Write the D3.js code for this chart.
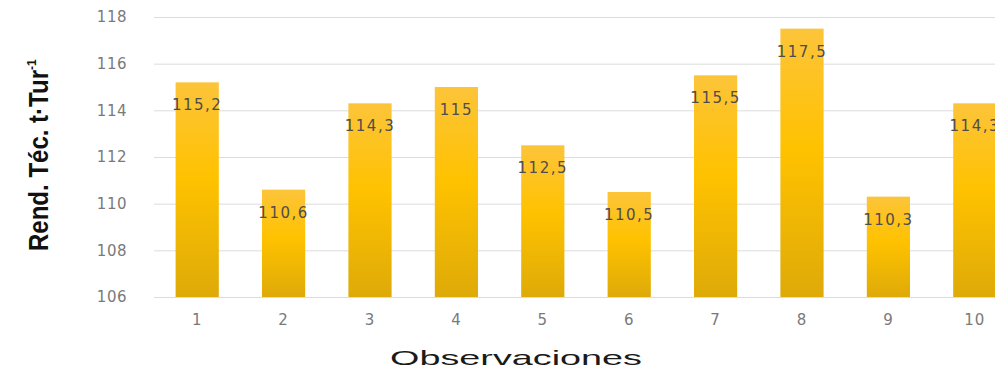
<!DOCTYPE html>
<html>
<head>
<meta charset="utf-8">
<script src="https://cdn.jsdelivr.net/npm/d3@7"></script>
<style>
  html, body { margin: 0; padding: 0; background: #fff; overflow: hidden; }
  svg { display: block; }
</style>
</head>
<body>
<svg id="chart" width="995" height="380"></svg>
<script>
// Rendimiento técnico por observación
const observaciones = ["1", "2", "3", "4", "5", "6", "7", "8", "9", "10"];
const rendimiento = [115.2, 110.6, 114.3, 115, 112.5, 110.5, 115.5, 117.5, 110.3, 114.3];
const yTicks = [106, 108, 110, 112, 114, 116, 118];

const svg = d3.select("#chart");
const plotLeft = 154, plotRight = 1018, plotTop = 17, plotBottom = 297;
const numFont = "'DejaVu Sans', 'Open Sans', sans-serif";

const x = d3.scaleBand().domain(observaciones).range([plotLeft, plotRight]).paddingInner(0.5).paddingOuter(0.25);
const y = d3.scaleLinear().domain([106, 118]).range([plotBottom, plotTop]);

// vertical gradient for the bars
const defs = svg.append("defs");
const grad = defs.append("linearGradient").attr("id", "barGrad").attr("x1", 0).attr("y1", 0).attr("x2", 0).attr("y2", 1);
grad.append("stop").attr("offset", "0%").attr("stop-color", "#fcc43a");
grad.append("stop").attr("offset", "45%").attr("stop-color", "#ffc200");
grad.append("stop").attr("offset", "100%").attr("stop-color", "#deaa08");

// gridlines and y tick labels
const yAxis = d3.axisLeft(y).tickValues(yTicks).tickSize(-(plotRight - plotLeft)).tickPadding(27).tickFormat(d3.format("d"));
const gy = svg.append("g").attr("transform", `translate(${plotLeft},0)`).call(yAxis);
gy.select(".domain").remove();
gy.selectAll(".tick line").attr("stroke", "#dcdcdc").attr("stroke-width", 1);
gy.selectAll(".tick text").attr("fill", "#7a7a7a")
  .style("font-family", numFont).style("font-size", "15px").style("letter-spacing", "0.5px");

// bars
svg.append("g").selectAll("rect").data(rendimiento).join("rect")
  .attr("x", (d, i) => x(observaciones[i]))
  .attr("y", d => y(d))
  .attr("width", x.bandwidth())
  .attr("height", d => y(106) - y(d))
  .attr("fill", "url(#barGrad)");

// value labels inside the top of each bar
svg.append("g").selectAll("text").data(rendimiento).join("text")
  .attr("x", (d, i) => x(observaciones[i]) + x.bandwidth() / 2)
  .attr("y", d => y(d) + 28)
  .attr("text-anchor", "middle")
  .attr("fill", "#4d4d4d")
  .style("font-family", numFont)
  .style("font-size", "15px")
  .style("letter-spacing", "1.5px")
  .text(d => String(d).replace(".", ","));

// x tick labels
const xAxis = d3.axisBottom(x).tickSize(0).tickPadding(17);
const gx = svg.append("g").attr("transform", `translate(0,${plotBottom})`).call(xAxis);
gx.select(".domain").remove();
gx.selectAll(".tick text").attr("fill", "#7a7a7a")
  .style("font-family", numFont).style("font-size", "15px").style("letter-spacing", "1px");

// axis titles
svg.append("text")
  .attr("x", 516).attr("y", 365)
  .attr("text-anchor", "middle")
  .attr("fill", "#1a1a1a")
  .attr("textLength", 252)
  .attr("lengthAdjust", "spacingAndGlyphs")
  .style("font-family", "'Liberation Sans', Arial, sans-serif")
  .style("font-size", "21px")
  .text("Observaciones");

const yt = svg.append("text")
  .attr("transform", "translate(48,251) rotate(-90)")
  .attr("fill", "#111")
  .style("font-family", "'Liberation Sans', Arial, sans-serif")
  .style("font-weight", "bold")
  .style("font-size", "28px");
yt.append("tspan").attr("x", 0).attr("y", 0)
  .attr("textLength", 181).attr("lengthAdjust", "spacingAndGlyphs")
  .text("Rend. Téc. t·Tur");
yt.append("tspan").attr("dy", -12).style("font-size", "12px").text("-1");
</script>
</body>
</html>
